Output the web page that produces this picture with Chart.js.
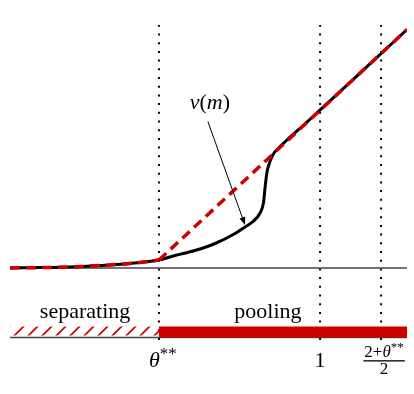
<!DOCTYPE html>
<html>
<head>
<meta charset="utf-8">
<script src="https://cdn.jsdelivr.net/npm/chart.js@4"></script>
<style>
  html, body { margin: 0; padding: 0; background: #fff; }
  #wrap { width: 414px; height: 394px; }
</style>
</head>
<body>
<div id="wrap"><canvas id="chart"></canvas></div>
<script>
// message m (x) and value nu(m) (y)
const mX  = [-0.095, 0.011, 0.117, 0.223, 0.329, 0.431, 0.488, 0.558, 0.629, 0.700, 0.735, 0.763, 0.788, 0.800, 0.806, 0.812, 0.820, 0.833, 0.855, 0.883, 0.954, 1.307];
const nuY = [0, 0.004, 0.01, 0.025, 0.045, 0.08, 0.125, 0.175, 0.245, 0.345, 0.41, 0.465, 0.55, 0.65, 0.81, 0.95, 1.04, 1.13, 1.205, 1.28, 1.46, 2.385];

const theta = 0.431;                      // theta**
const xMin = -0.095, xMax = 1.307;
const yMin = -0.72, yMax = 2.43;
const marks = [theta, 1, (2 + theta) / 2]; // dotted verticals
const bandY = -0.63;                      // regime band
const baseY = -0.695;                     // lower axis line

const RED = '#cc0000';

// red dashed: same as nu up to theta**, then straight to the right end
const redLeft = mX.map((x, i) => ({ x, y: nuY[i] })).filter(p => p.x <= theta);
const redLine = [{ x: theta, y: nuY[mX.indexOf(theta)] }, { x: xMax, y: nuY[nuY.length - 1] }];

function hatchPattern() {
    const c = document.createElement('canvas');
    c.width = 14; c.height = 14;
    const g = c.getContext('2d');
    g.strokeStyle = RED;
    g.lineWidth = 1.7;
    g.beginPath();
    [0, 14, 28].forEach(k => { g.moveTo(k + 2, -2); g.lineTo(-2, k + 2); });
    g.stroke();
    return g.createPattern(c, 'repeat');
}

const seg = (x0, x1, y) => [{ x: x0, y }, { x: x1, y }];

const datasets = [
    { data: redLeft, borderColor: RED, borderWidth: 3.5, borderDash: [10, 6], cubicInterpolationMode: 'monotone', order: 0 },
    { data: redLine, borderColor: RED, borderWidth: 3.5, borderDash: [10, 6], order: 0 },
    { data: mX.map((x, i) => ({ x, y: nuY[i] })), borderColor: '#000', borderWidth: 3, cubicInterpolationMode: 'monotone', order: 1 },
    { data: seg(xMin, xMax, 0), borderColor: '#444', borderWidth: 1.5, order: 3 },
    { data: seg(xMin, xMax, baseY), borderColor: '#444', borderWidth: 1.5, order: 4 },
    { data: seg(xMin, theta, bandY), borderColor: hatchPattern(), borderWidth: 9, order: 2 },
    { data: seg(theta, xMax, bandY - 0.01), borderColor: RED, borderWidth: 11, order: 2 },
    ...marks.map(m => ({ data: [{ x: m, y: yMin }, { x: m, y: yMax }], borderColor: '#000', borderWidth: 2, borderDash: [2, 6.7], order: 5 })),
];

const labelsPlugin = {
    id: 'labels',
    afterDraw(chart) {
        const { ctx, scales: { x, y } } = chart;
        const serif = '"Liberation Serif", "DejaVu Serif", serif';
        ctx.save();
        ctx.fillStyle = '#000';
        ctx.textBaseline = 'alphabetic';

        // pieces: [text, italic, size, dy]
        function run(parts, cx, by) {
            let w = 0;
            parts.forEach(p => { ctx.font = (p[1] ? 'italic ' : '') + p[2] + 'px ' + serif; w += ctx.measureText(p[0]).width; });
            let px = cx - w / 2;
            ctx.textAlign = 'left';
            parts.forEach(p => {
                ctx.font = (p[1] ? 'italic ' : '') + p[2] + 'px ' + serif;
                ctx.fillText(p[0], px, by + (p[3] || 0));
                px += ctx.measureText(p[0]).width;
            });
            return w;
        }

        // nu(m) label and arrow
        run([['ν', true, 22], ['(', false, 22], ['m', true, 22], [')', false, 22]], x.getPixelForValue(0.611), y.getPixelForValue(1.595));
        const ax0 = x.getPixelForValue(0.604), ay0 = y.getPixelForValue(1.463);
        const ax1 = x.getPixelForValue(0.735), ay1 = y.getPixelForValue(0.43);
        const ang = Math.atan2(ay1 - ay0, ax1 - ax0);
        ctx.strokeStyle = '#000';
        ctx.lineWidth = 1;
        ctx.beginPath();
        ctx.moveTo(ax0, ay0);
        ctx.lineTo(ax1 - 5 * Math.cos(ang), ay1 - 5 * Math.sin(ang));
        ctx.stroke();
        ctx.beginPath();
        ctx.moveTo(ax1, ay1);
        ctx.lineTo(ax1 - 8 * Math.cos(ang) + 3 * Math.sin(ang), ay1 - 8 * Math.sin(ang) - 3 * Math.cos(ang));
        ctx.lineTo(ax1 - 8 * Math.cos(ang) - 3 * Math.sin(ang), ay1 - 8 * Math.sin(ang) + 3 * Math.cos(ang));
        ctx.closePath();
        ctx.fill();

        // regime names
        run([['separating', false, 22]], x.getPixelForValue(0.17), y.getPixelForValue(-0.5));
        run([['pooling', false, 22]], x.getPixelForValue(0.816), y.getPixelForValue(-0.5));

        // tick labels
        const tb = y.getPixelForValue(-0.99);
        run([['θ', true, 22], ['**', false, 17, -8]], x.getPixelForValue(marks[0]) + 4, tb);
        run([['1', false, 22]], x.getPixelForValue(marks[1]), tb);
        const fx = x.getPixelForValue(marks[2]) + 3;
        const nw = run([['2+', false, 17], ['θ', true, 17], ['**', false, 13, -6]], fx, tb - 10);
        ctx.fillRect(fx - nw / 2 - 1, tb - 6.8, nw + 2, 1.3);
        run([['2', false, 17]], fx, tb + 7);
        ctx.restore();
    }
};

new Chart(document.getElementById('chart'), {
    type: 'scatter',
    data: { datasets: datasets.map(d => ({ showLine: true, pointRadius: 0, fill: false, ...d })) },
    options: {
        responsive: true,
        maintainAspectRatio: false,
        animation: false,
        layout: { padding: { left: 10, right: 7, top: 25, bottom: 54 } },
        scales: {
            x: { type: 'linear', min: xMin, max: xMax, display: false },
            y: { type: 'linear', min: yMin, max: yMax, display: false },
        },
        plugins: { legend: { display: false }, tooltip: { enabled: false } },
    },
    plugins: [labelsPlugin],
});
</script>
</body>
</html>
